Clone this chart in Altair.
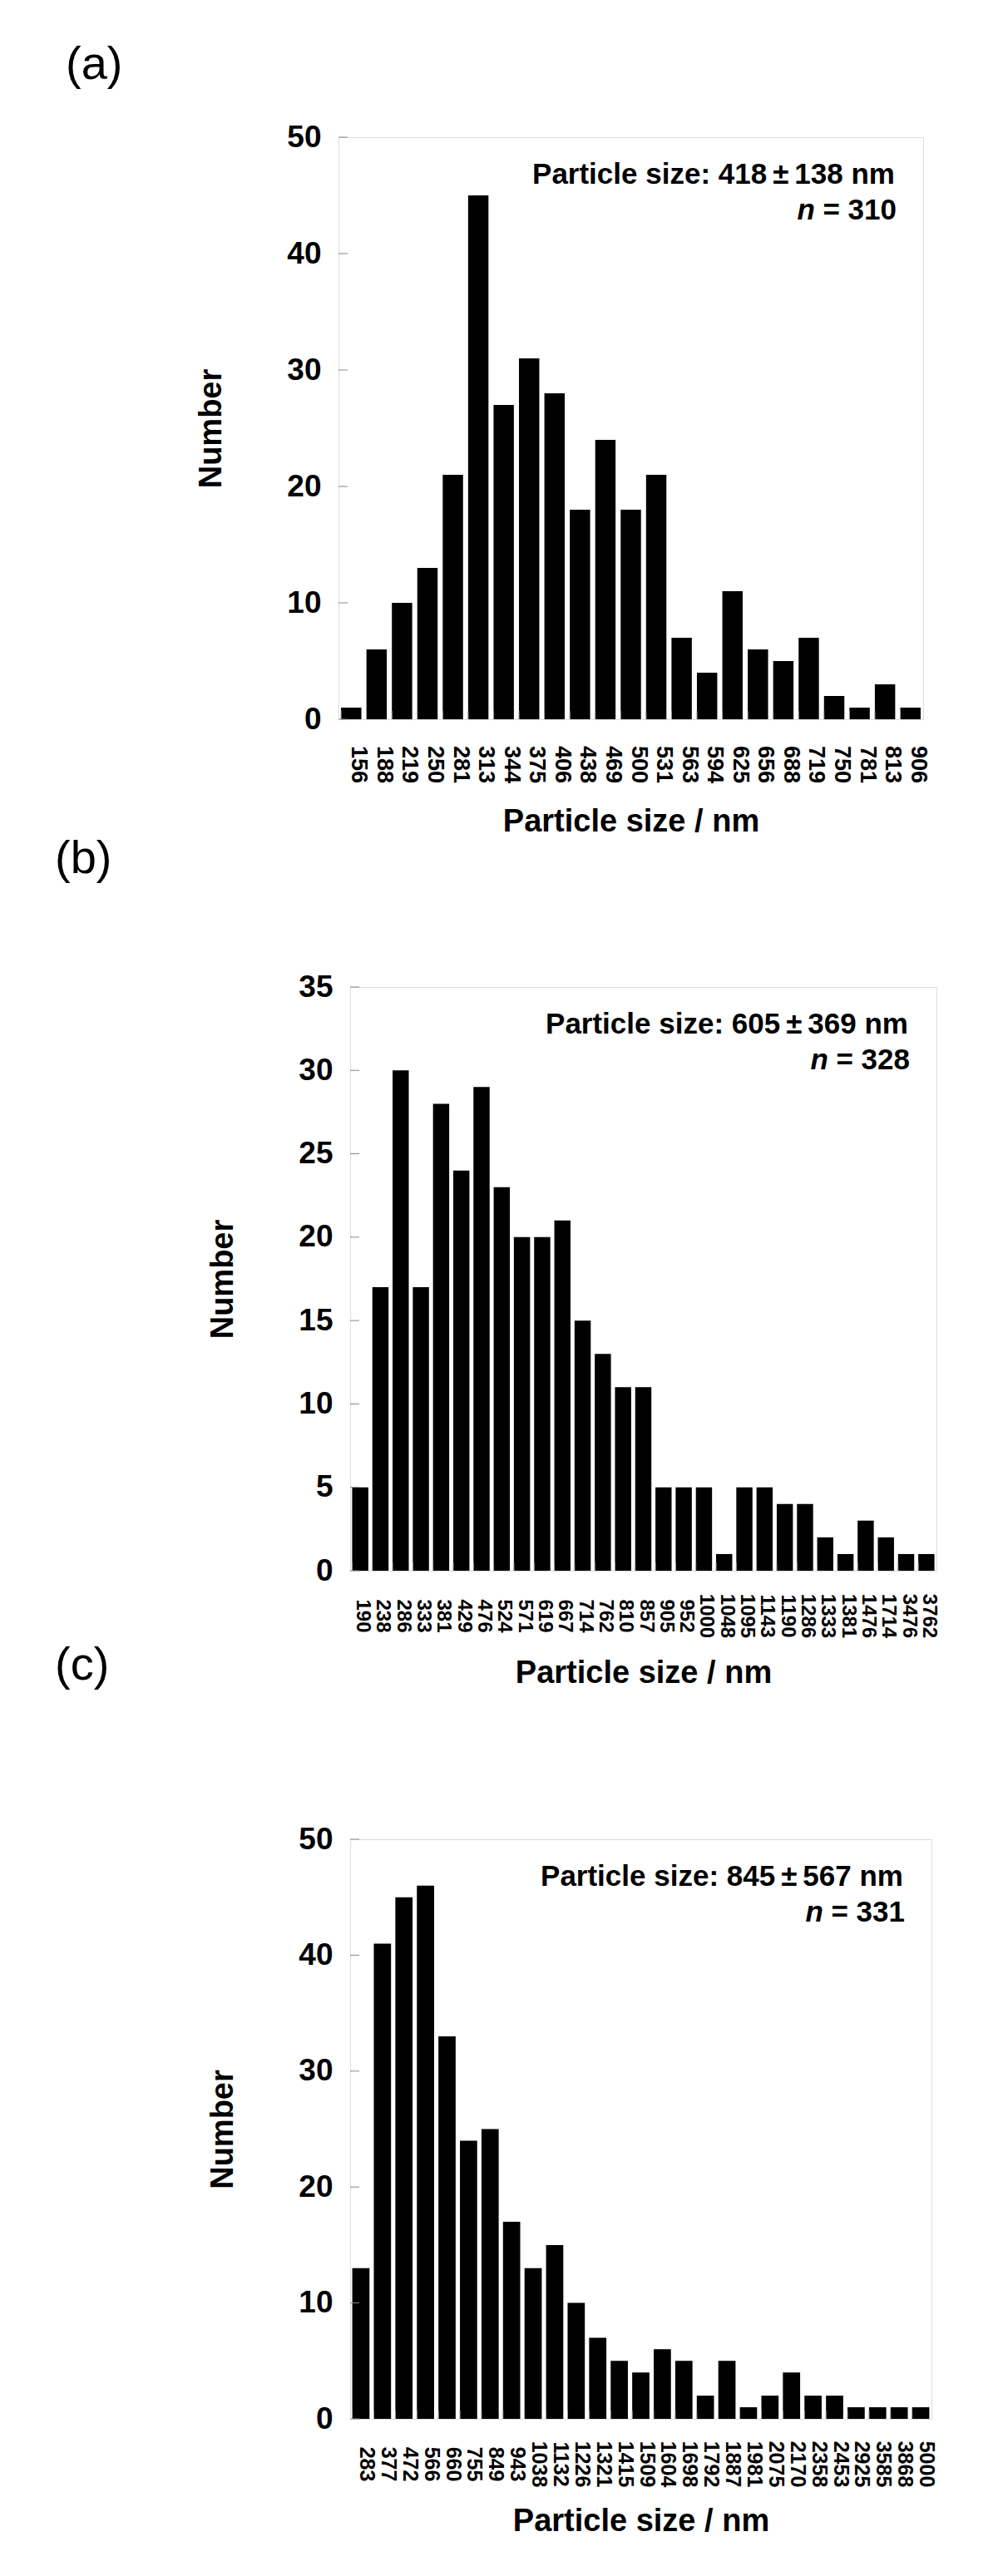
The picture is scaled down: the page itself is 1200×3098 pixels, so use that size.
import altair as alt
import pandas as pd

FONT = "Liberation Sans"

# ---------------- data ----------------
sizes_a = ['156', '188', '219', '250', '281', '313', '344', '375', '406', '438', '469', '500',
           '531', '563', '594', '625', '656', '688', '719', '750', '781', '813', '906']
counts_a = [1, 6, 10, 13, 21, 45, 27, 31, 28, 18, 24, 18, 21, 7, 4, 11, 6, 5, 7, 2, 1, 3, 1]
ticks_a = [0, 10, 20, 30, 40, 50]
stats_a = [418, 138, 310]

sizes_b = ['190', '238', '286', '333', '381', '429', '476', '524', '571', '619', '667', '714',
           '762', '810', '857', '905', '952', '1000', '1048', '1095', '1143', '1190', '1286',
           '1333', '1381', '1476', '1714', '3476', '3762']
counts_b = [5, 17, 30, 17, 28, 24, 29, 23, 20, 20, 21, 15, 13, 11, 11, 5, 5, 5, 1, 5, 5, 4, 4,
            2, 1, 3, 2, 1, 1]
ticks_b = [0, 5, 10, 15, 20, 25, 30, 35]
stats_b = [605, 369, 328]

sizes_c = ['283', '377', '472', '566', '660', '755', '849', '943', '1038', '1132', '1226', '1321',
           '1415', '1509', '1604', '1698', '1792', '1887', '1981', '2075', '2170', '2358', '2453',
           '2925', '3585', '3868', '5000']
counts_c = [13, 41, 45, 46, 33, 24, 25, 17, 13, 15, 10, 7, 5, 4, 6, 5, 2, 5, 1, 2, 4, 2, 2,
            1, 1, 1, 1]
ticks_c = [0, 10, 20, 30, 40, 50]
stats_c = [845, 567, 331]


def panel(sizes, counts, ticks, stats, W, H, lab_fs, lab_off, letters, left, top, bottom):
    df = pd.DataFrame({'size': sizes, 'count': counts})
    ymax = ticks[-1]
    xscale = alt.Scale(paddingInner=0.2, paddingOuter=0.1)
    yscale = alt.Scale(domain=[0, ymax], nice=False, zero=True)
    xaxis = alt.Axis(
        title='Particle size / nm', titleFont=FONT, titleFontSize=38, titleFontWeight='bold',
        titleColor='black', titleY=134, titleBaseline='alphabetic',
        labelAngle=90, labelAlign='center', labelBaseline='middle', labelPadding=54,
        labelOffset=lab_off, labelFont=FONT, labelFontSize=lab_fs, labelFontWeight='bold',
        labelColor='black', ticks=False, tickSize=0, domain=False, grid=False,
        labelOverlap=False)
    yaxis = alt.Axis(
        title='Number', values=ticks, titleFont=FONT, titleFontSize=38, titleFontWeight='bold',
        titleColor='black', titleX=-153, titleBaseline='middle',
        labelFont=FONT, labelFontSize=37, labelFontWeight='bold', labelColor='black',
        labelPadding=21, ticks=False, tickSize=0, domain=False, grid=False)

    bars = alt.Chart(df).mark_bar(color='black').encode(
        x=alt.X('size:O', sort=None, scale=xscale, axis=xaxis),
        y=alt.Y('count:Q', scale=yscale, axis=yaxis))

    xt = alt.Chart(df).mark_rule(color='#a0a0a0', strokeWidth=1).encode(
        x=alt.X('size:O', sort=None, bandPosition=0),
        y=alt.value(H), y2=alt.value(H - 10))

    yt = alt.Chart(pd.DataFrame({'count': ticks})).mark_rule(color='#888888',
                                                            strokeWidth=1).encode(
        y=alt.Y('count:Q', scale=yscale), x=alt.value(0), x2=alt.value(11))

    mean, sd, n = stats
    ann = pd.DataFrame({'line1': [f'Particle size: {mean}\u2009\u00b1\u2009{sd} nm'],
                        'eq': [f'= {n}'], 'nn': ['n']})
    t1 = alt.Chart(ann).mark_text(align='right', baseline='alphabetic', font=FONT, fontSize=35,
                                  fontWeight='bold', color='black').encode(
        text='line1:N', x=alt.value(W - 34), y=alt.value(56))
    t2 = alt.Chart(ann).mark_text(align='right', baseline='alphabetic', font=FONT, fontSize=35,
                                  fontWeight='bold', color='black').encode(
        text='eq:N', x=alt.value(W - 32), y=alt.value(99))
    t3 = alt.Chart(ann).mark_text(align='right', baseline='alphabetic', font=FONT, fontSize=35,
                                  fontWeight='bold', fontStyle='italic', color='black').encode(
        text='nn:N', x=alt.value(W - 130), y=alt.value(99))

    layers = [bars, xt, yt, t1, t2, t3]
    for lab, lx, ly in letters:
        ldf = pd.DataFrame({'lab': [lab]})
        layers.append(alt.Chart(ldf).mark_text(align='left', baseline='middle', font=FONT,
                                               fontSize=56, fontWeight='normal',
                                               color='black').encode(
            text='lab:N', x=alt.value(lx), y=alt.value(ly)))

    inv = alt.Chart(pd.DataFrame({'k': [0]})).mark_rule(strokeOpacity=0, opacity=0).encode(
        x=alt.value(left), y=alt.value(top), y2=alt.value(bottom))
    layers.append(inv)
    return alt.layer(*layers).properties(width=W, height=H)


def spacer():
    return alt.Chart(pd.DataFrame({'k': [0]})).mark_rule(strokeOpacity=0, opacity=0).encode(
        x=alt.value(0), y=alt.value(0), y2=alt.value(1)).properties(
        width=1, height=1, view=alt.ViewBackground(stroke='transparent'))


pa = panel(sizes_a, counts_a, ticks_a, stats_a, 703, 700, 27, 9,
           [('(a)', -328, -87), ('(b)', -341, 868)], -395, -156, 926)
pb = panel(sizes_b, counts_b, ticks_b, stats_b, 705, 702, 24, 3,
           [('(c)', -355, 816)], -409, -94, 916)
pc = panel(sizes_c, counts_c, ticks_c, stats_c, 699, 697, 25, 7,
           [], -409, -107, 883)

# a tiny spacer in front of each panel lets every panel keep its own left offset
chart = alt.vconcat(alt.hconcat(spacer(), pa, spacing=0),
                    alt.hconcat(spacer(), pb, spacing=0),
                    alt.hconcat(spacer(), pc, spacing=0), spacing=0).properties(
    padding=0).configure_view(stroke='#888888', strokeWidth=1).configure(font=FONT)

chart.save("out.html", embed_options={"renderer": "svg", "actions": False})
